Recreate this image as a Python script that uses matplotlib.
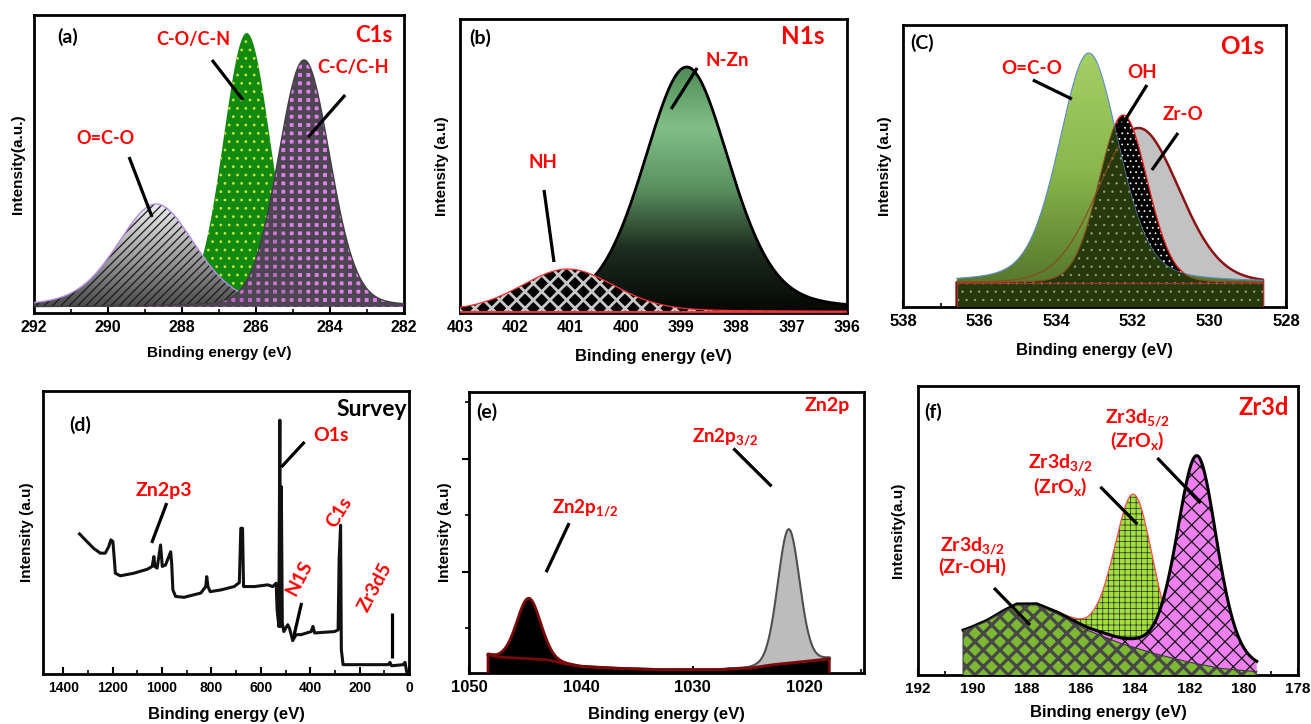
import numpy as np
import matplotlib
matplotlib.use("Agg")
import matplotlib.pyplot as plt
from matplotlib.patches import Polygon
from matplotlib.colors import LinearSegmentedColormap
from matplotlib.ticker import MultipleLocator, NullLocator, FixedLocator, StrMethodFormatter

plt.rcParams['font.family'] = ['Liberation Sans', 'DejaVu Sans']
plt.rcParams['font.weight'] = 'bold'
plt.rcParams['mathtext.fontset'] = 'custom'
plt.rcParams['mathtext.rm'] = 'Lato:bold'
plt.rcParams['mathtext.it'] = 'Lato:bold'
plt.rcParams['mathtext.bf'] = 'Lato:bold'

W, H = 1311, 724

# ---------------- data ----------------
# (a) C1s fitted components
c1s_labels = ["O=C-O", "C-O/C-N", "C-C/C-H"]
c1s_center = [288.7, 286.25, 284.7]
c1s_height = [103, 274, 247]
c1s_fwhm = [2.5, 1.5, 1.65]
c1s_eta = [0.3, 0.1, 0.15]
c1s_base = 6

# (b) N1s
n1s_labels = ["NH", "N-Zn"]
n1s_center = [401.05, 398.9]
n1s_height = [42.5, 244.5]
n1s_fwhm = [2.0, 1.85]
n1s_eta = [0.2, 0.3]
n1s_base = 1.5

# (c) O1s
o1s_labels = ["O=C-O", "OH", "Zr-O"]
o1s_center = [533.15, 532.25, 531.85]
o1s_height = [230, 168, 155]
o1s_fwhm = [1.85, 1.5, 2.5]
o1s_eta = [0.3, 0.1, 0.1]
o1s_base = 24
o1s_range = (536.6, 528.6)

# (d) survey spectrum
survey_be = [1334, 1304, 1277, 1250, 1230, 1216, 1207, 1199, 1193, 1189,
             1169, 1115, 1060, 1040, 1033, 1029, 1020, 1006, 999, 986,
             965, 961, 956, 945, 911, 843, 823, 819, 814, 805,
             762, 708, 687, 681, 674, 670, 626, 572, 552, 538,
             534, 527, 523, 521, 517, 513, 507, 491, 484, 471,
             457, 437, 396, 389, 382, 301, 287, 283, 277, 274,
             267, 165, 84, 77, 71, 23, 16, 9, 0]
survey_int = [49.5, 46.8, 44.4, 42.7, 42.7, 45.0, 47.4, 46.8, 40.3, 35.6,
              34.7, 35.6, 37.0, 38.0, 41.5, 38.0, 37.4, 45.6, 38.0, 38.5,
              43.2, 39.1, 29.7, 27.4, 27.1, 28.6, 30.9, 34.4, 30.9, 29.1,
              29.7, 30.9, 32.3, 51.5, 51.5, 30.9, 30.9, 31.5, 30.9, 32.1,
              22.7, 16.8, 89.7, 16.8, 66.2, 18.0, 15.0, 17.4, 16.2, 11.8,
              13.9, 13.9, 15.0, 16.8, 14.5, 15.0, 15.6, 40.3, 52.6, 8.6,
              3.3, 3.3, 3.3, 4.1, 2.9, 3.3, 4.1, 0.6, 0.35]

# (e) Zn2p
zn_bg_be = [1048.3, 1047.5, 1046.5, 1043, 1041.5, 1040, 1037, 1033, 1028, 1025, 1023, 1021, 1019, 1017.8]
zn_bg_int = [-0.47, -0.51, -0.52, -0.56, -0.63, -0.68, -0.71, -0.735, -0.735, -0.71, -0.65, -0.61, -0.57, -0.54]
zn_labels = ["Zn2p$_{1/2}$", "Zn2p$_{3/2}$"]
zn_center = [1044.66, 1021.43]
zn_height = [1.07, 2.37]
zn_fwhm = [2.5, 2.3]
zn_eta = [0.1, 0.1]

# (f) Zr3d
zroh_be = [190.34, 190.09, 189.48, 188.86, 188.37, 187.63, 186.90, 185.79, 184.56, 183.33, 182.10, 180.87, 179.52]
zroh_int = [15.3, 16.1, 18.5, 21.9, 24.2, 24.2, 21.3, 15.6, 11.0, 7.5, 4.6, 2.3, 1.15]
zrox_labels = ["Zr3d$_{3/2}$\n(ZrO$_{\\mathrm{x}}$)", "Zr3d$_{5/2}$\n(ZrO$_{\\mathrm{x}}$)"]
zrox_center = [184.05, 181.72]
zrox_height = [53, 72]
zrox_fwhm = [1.7, 1.75]
zrox_eta = [0.2, 0.3]


def gl(x, c, h, fwhm, eta):
    u = 4 * (x - c) ** 2 / fwhm ** 2
    return h * ((1 - eta) * np.exp(-np.log(2) * u) + eta / (1 + u))


def px_axes(fig, l, r, t, b):
    return fig.add_axes([l / W, (H - b) / H, (r - l) / W, (b - t) / H])


def style(ax, box, xlim, ylim, major, minor, tsize, xlab_y, ylab_x, ylabel, xsize=12):
    l, r, t, b = box
    ax.set_xlim(*xlim)
    ax.set_ylim(*ylim)
    ax.xaxis.set_major_locator(MultipleLocator(major))
    ax.xaxis.set_minor_locator(MultipleLocator(minor))
    ax.xaxis.set_major_formatter(StrMethodFormatter("{x:.0f}"))
    ax.yaxis.set_major_locator(NullLocator())
    ax.yaxis.set_minor_locator(NullLocator())
    ax.tick_params(axis='x', which='major', direction='in', length=5, width=1.5,
                   labelsize=tsize, pad=5)
    ax.tick_params(axis='x', which='minor', direction='in', length=3, width=1.2)
    for s in ax.spines.values():
        s.set_linewidth(2)
    ax.set_xlabel("Binding energy (eV)", fontsize=xsize, fontweight='bold')
    ax.xaxis.label.set_va('center')
    ax.xaxis.set_label_coords(0.5, (b - xlab_y) / (b - t))
    ax.set_ylabel(ylabel, fontsize=11, fontweight='bold')
    ax.yaxis.label.set_va('center')
    ax.yaxis.set_label_coords((ylab_x - l) / (r - l), 0.5)


def gradient(ax, x, ytop, ybot, colors, z):
    verts = np.column_stack([np.r_[x, x[::-1]], np.r_[ytop, ybot[::-1]]])
    poly = Polygon(verts, closed=True, facecolor='none', edgecolor='none', zorder=z)
    ax.add_patch(poly)
    cmap = LinearSegmentedColormap.from_list("g", colors)
    grad = np.linspace(0, 1, 256).reshape(-1, 1)
    im = ax.imshow(grad, cmap=cmap, aspect='auto', origin='upper', zorder=z,
                   extent=[x.min(), x.max(), min(ybot.min(), ytop.min()), ytop.max()])
    im.set_clip_path(poly)


def hatch(ax, x, y1, y2, pattern, color, lw, z):
    with plt.rc_context({'hatch.linewidth': lw, 'hatch.color': color}):
        pc = ax.fill_between(x, y1, y2, facecolor='none', edgecolor=color,
                             hatch=pattern, linewidth=0, zorder=z)
    if hasattr(pc, 'set_hatch_linewidth'):
        pc.set_hatch_linewidth(lw)
    return pc


def label(ax, x, y, s, size, color='red', **kw):
    ax.text(x, y, s, color=color, fontsize=size, family=['Lato', 'DejaVu Sans'],
            fontweight='bold', ha=kw.pop('ha', 'center'), va=kw.pop('va', 'center'), **kw)


def bar(ax, x0, y0, x1, y1):
    ax.plot([x0, x1], [y0, y1], color='black', lw=2.3, solid_capstyle='butt', zorder=10)


fig = plt.figure(figsize=(W / 100, H / 100), dpi=100)

# ---------------- (a) C1s ----------------
box = (34, 404, 15, 313)
ax = px_axes(fig, *box)
x = np.linspace(292, 282, 800)
base = np.full_like(x, c1s_base)
p = [c1s_base + gl(x, c, h, f, e) for c, h, f, e in zip(c1s_center, c1s_height, c1s_fwhm, c1s_eta)]
# green C-O/C-N
ax.fill_between(x, base, p[1], facecolor='#128a10', linewidth=0, zorder=2)
hatch(ax, x, base, p[1], '..', '#c8e63c', 0.8, 2.1)
# gray O=C-O
gradient(ax, x, p[0], base, ['#eeeeee', '#a0a0a0', '#4a4a4a'], 3)
hatch(ax, x, base, p[0], '////', '#1a1a1a', 0.9, 3.1)
ax.plot(x, p[0], color='#b48ee6', lw=1.0, zorder=3.2)
# purple C-C/C-H
ax.fill_between(x, base, p[2], facecolor=(0.85, 0.42, 0.9, 0.85), linewidth=0, zorder=4)
hatch(ax, x, base, p[2], '++', '#4e4552', 3.2, 4.1)
ax.plot(x, p[2], color='#404040', lw=1.0, zorder=4.2)
style(ax, box, (292, 282), (0, 298), 2, 1, 11.5, 353, 18, "Intensity(a.u.)", xsize=11)
label(ax, 291.08, 276, "(a)", 14, color='black')
label(ax, 282.32, 278, "C1s", 16, ha='right')
label(ax, 287.70, 273, c1s_labels[1], 13)
label(ax, 283.38, 245, c1s_labels[2], 13)
label(ax, 290.08, 175, c1s_labels[0], 13)
bar(ax, 289.43, 156, 288.81, 96)
bar(ax, 287.19, 253, 286.35, 213)
bar(ax, 283.59, 218, 284.59, 176)

# ---------------- (b) N1s ----------------
box = (460, 847, 19, 313)
ax = px_axes(fig, *box)
x = np.linspace(403, 396, 800)
base = np.full_like(x, n1s_base)
nh = n1s_base + gl(x, n1s_center[0], n1s_height[0], n1s_fwhm[0], n1s_eta[0])
nzn = n1s_base + gl(x, n1s_center[1], n1s_height[1], n1s_fwhm[1], n1s_eta[1])
gradient(ax, x, nzn, base, ['#4e8a55', '#80c088', '#5a9060', '#1c2c1e', '#050805'], 2)
ax.plot(x, nzn, color='black', lw=2.0, zorder=2.5)
ax.fill_between(x, base, nh, facecolor='black', linewidth=0, zorder=3)
hatch(ax, x, base, nh, 'xx', '#c8c8c8', 2.0, 3.1)
ax.plot(x, nh, color='#ff3030', lw=0.9, zorder=3.5)
ax.plot(x, base, color='#ff3030', lw=1.2, zorder=3.6)
style(ax, box, (403, 396), (0, 294), 1, 0.5, 11.5, 357, 442, "Intensity (a.u)")
label(ax, 402.64, 275, "(b)", 14, color='black')
label(ax, 396.8, 276, "N1s", 17.5)
label(ax, 398.17, 253, n1s_labels[1], 13.5)
label(ax, 401.5, 150, n1s_labels[0], 13.5)
bar(ax, 401.48, 123, 401.30, 51)
bar(ax, 398.71, 245, 399.18, 204)

# ---------------- (c) O1s ----------------
box = (903, 1286, 25, 307)
ax = px_axes(fig, *box)
x = np.linspace(o1s_range[0], o1s_range[1], 800)
zero = np.zeros_like(x)
base = np.full_like(x, o1s_base)
oco = o1s_base + gl(x, o1s_center[0], o1s_height[0], o1s_fwhm[0], o1s_eta[0])
oh = o1s_base + gl(x, o1s_center[1], o1s_height[1], o1s_fwhm[1], o1s_eta[1])
zro = o1s_base + gl(x, o1s_center[2], o1s_height[2], o1s_fwhm[2], o1s_eta[2])
xe = np.r_[x[0], x, x[-1]]
ax.fill_between(x, zero, zro, facecolor='#c2c2c2', linewidth=0, zorder=2)
ax.plot(xe, np.r_[0, zro, 0], color='#8a1414', lw=1.8, zorder=2.2)
ax.fill_between(x, zero, oh, facecolor='black', linewidth=0, zorder=3)
hatch(ax, x, zero, oh, '...', 'white', 0.5, 3.1)
ax.plot(x, oh, color='#ff2020', lw=0.9, zorder=3.2)
gradient(ax, x, oco, base, ['#a4cf64', '#8ab84c', '#56782c'], 4)
ax.plot(x, oco, color='#5a8cc8', lw=0.8, zorder=4.2)
low = np.minimum(oco, oh)
ax.fill_between(x, zero, low, facecolor='#26390b', linewidth=0, zorder=5)
hatch(ax, x, zero, low, '..', '#9aa890', 0.4, 5.1)
ax.plot(x, np.where(zro < oco, zro, np.nan), color='#8a4a20', lw=0.8, zorder=5.5)
ax.plot(x, np.where(oh < oco, oh, np.nan), color='#8a4a20', lw=0.8, zorder=5.5)
ax.plot(xe, np.r_[0, base, 0], color='#b03030', lw=0.8, zorder=5.6)
style(ax, box, (538, 528), (0, 282), 2, 1, 12, 350, 885, "Intensity (a.u)")
label(ax, 537.5, 264, "(C)", 14, color='black')
label(ax, 529.15, 260, "O1s", 17.5)
label(ax, 534.63, 239, o1s_labels[0], 13.5)
label(ax, 531.76, 234, o1s_labels[1], 13.5)
label(ax, 530.69, 192, o1s_labels[2], 13.5)
bar(ax, 534.61, 227, 533.59, 208)
bar(ax, 531.63, 222, 532.41, 174)
bar(ax, 530.82, 174, 531.50, 137)

# ---------------- (d) Survey ----------------
box = (43, 409, 391, 674)
ax = px_axes(fig, *box)
ax.plot(survey_be, survey_int, color='#111111', lw=2.2, zorder=3)
style(ax, box, (1482, 0), (0, 100), 200, 100, 10, 714, 27, "Intensity (a.u)")
label(ax, 1331, 88, "(d)", 14, color='black')
label(ax, 8, 93.6, "Survey", 16.5, color='black', ha='right')
label(ax, 317, 84.1, "O1s", 14)
bar(ax, 423, 82.0, 517, 73.1)
label(ax, 993, 64.7, "Zn2p3", 14)
bar(ax, 981, 60.4, 1042, 46.3)
label(ax, 281, 57.2, "C1s", 14, rotation=58)
label(ax, 444, 33.9, "N1S", 14, rotation=62)
bar(ax, 435, 25.1, 468, 12.7)
label(ax, 138, 30.7, "Zr3d5", 14, rotation=62)
bar(ax, 69, 21.6, 69, 5.7)

# ---------------- (e) Zn2p ----------------
box = (469, 864, 392, 673)
ax = px_axes(fig, *box)
ybot = -0.794
x = np.linspace(zn_bg_be[0], zn_bg_be[-1], 900)
bg = np.interp(x, zn_bg_be[::-1], zn_bg_int[::-1])
p12 = bg + gl(x, zn_center[0], zn_height[0], zn_fwhm[0], zn_eta[0])
p32 = bg + gl(x, zn_center[1], zn_height[1], zn_fwhm[1], zn_eta[1])
ax.fill_between(x, ybot, p12, facecolor='black', linewidth=0, zorder=2)
ax.plot(np.r_[x[0], x, x[-1]], np.r_[ybot, p12, ybot], color='#7a0a0a', lw=2.0, zorder=3)
ax.fill_between(x, bg, p32, where=p32 - bg > 0.01, facecolor='#bcbcbc', linewidth=0, zorder=4)
ax.plot(x, np.where(p32 - bg > 0.01, p32, np.nan), color='#505050', lw=1.5, zorder=4.5)
ax.plot(x, bg, color='#7a0a0a', lw=2.0, zorder=5)
style(ax, box, (1050, 1014.7), (ybot, 4.18), 10, 5, 12, 714, 445, "Intensity (a.u)")
ax.yaxis.set_major_locator(FixedLocator([1, 3]))
ax.yaxis.set_minor_locator(FixedLocator([0, 2, 4]))
ax.tick_params(axis='y', which='major', direction='out', length=5, width=1.5, labelleft=False)
ax.tick_params(axis='y', which='minor', direction='out', length=3, width=1.2)
label(ax, 1048.39, 3.82, "(e)", 14, color='black')
label(ax, 1015.98, 3.94, "Zn2p", 14, ha='right')
label(ax, 1027.08, 3.38, zn_labels[1], 13.5)
bar(ax, 1026.37, 3.18, 1022.96, 2.51)
label(ax, 1039.62, 2.12, zn_labels[0], 13.5)
bar(ax, 1041.05, 1.86, 1043.11, 0.99)

# ---------------- (f) Zr3d ----------------
box = (918, 1298, 386, 675)
ax = px_axes(fig, *box)
x = np.linspace(zroh_be[0], zroh_be[-1], 800)
zero = np.zeros_like(x)
zroh = np.interp(x, zroh_be[::-1], zroh_int[::-1])
g32 = zroh + gl(x, zrox_center[0], zrox_height[0], zrox_fwhm[0], zrox_eta[0])
g52 = zroh + gl(x, zrox_center[1], zrox_height[1], zrox_fwhm[1], zrox_eta[1])
ax.fill_between(x, zero, g32, facecolor='#a2e03e', linewidth=0, zorder=2)
hatch(ax, x, zero, g32, '+++', '#2a2a2a', 0.5, 2.1)
ax.plot(x, g32, color='#ff5050', lw=0.9, zorder=2.2)
ax.fill_between(x, zero, g52, facecolor='#f080f2', linewidth=0, zorder=3)
hatch(ax, x, zero, g52, 'xx', '#151515', 0.9, 3.1)
ax.plot(x, g52, color='black', lw=2.2, zorder=3.2)
ax.fill_between(x, zero, zroh, facecolor='#7cb832', linewidth=0, zorder=4)
hatch(ax, x, zero, zroh, 'xx', '#474747', 2.3, 4.1)
ax.plot(np.r_[x[0], x], np.r_[0, zroh], color='#3a3a3a', lw=0.8, zorder=4.2)
style(ax, box, (192, 178), (0, 100), 2, 1, 11, 712, 898, "Intensity(a.u)")
label(ax, 191.45, 91.0, "(f)", 14, color='black')
label(ax, 178.35, 92.7, "Zr3d", 17, ha='right')
label(ax, 183.92, 84.8, zrox_labels[1], 14, linespacing=1.1)
bar(ax, 183.18, 75.1, 181.59, 59.5)
label(ax, 186.76, 69.2, zrox_labels[0], 14, linespacing=1.1)
bar(ax, 185.28, 65.1, 183.92, 52.2)
label(ax, 190.0, 41.2, "Zr3d$_{3/2}$\n(Zr-OH)", 14, linespacing=1.1)
bar(ax, 189.20, 30.1, 187.87, 17.3)

fig.savefig("out.png", dpi=100)
